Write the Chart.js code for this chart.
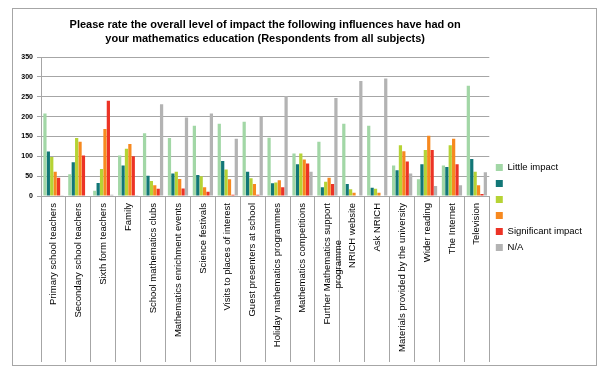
<!DOCTYPE html>
<html>
<head>
<meta charset="utf-8">
<script src="https://cdn.jsdelivr.net/npm/chart.js@4.4.1/dist/chart.umd.min.js"></script>
<style>
  body { margin: 0; background: #fff; }
  #frame { position: absolute; left: 12px; top: 8px; width: 583px; height: 356px; border: 1px solid #a6a6a6; }
  #chart { display: block; }
</style>
</head>
<body>
<div id="frame"><canvas id="chart" width="583" height="356"></canvas></div>
<script>
const categories = [
    'Primary school teachers',
    'Secondary school teachers',
    'Sixth form teachers',
    'Family',
    'School mathematics clubs',
    'Mathematics enrichment events',
    'Science festivals',
    'Visits to places of interest',
    'Guest presenters at school',
    'Holiday mathematics programmes',
    'Mathematics competitions',
    ['Further Mathematics support', 'programme              '], // trailing spaces centre the 2nd line
    'NRICH website',
    'Ask NRICH',
    'Materials provided by the university',
    'Wider reading',
    'The Internet',
    'Television'
];

const seriesNames = ['Little impact', '', '', '', 'Significant impact', 'N/A'];

const littleImpact = [208, 55, 13, 102, 158, 146, 177, 182, 187, 147, 107, 137, 182, 177, 77, 42, 77, 278];
const level2       = [112, 85, 33, 77, 51, 57, 53, 88, 61, 32, 80, 22, 30, 21, 65, 80, 73, 93];
const level3       = [98, 146, 68, 119, 38, 61, 50, 67, 45, 34, 107, 36, 17, 18, 128, 116, 128, 61];
const level4       = [61, 137, 169, 131, 27, 43, 22, 42, 30, 40, 92, 46, 8, 8, 113, 152, 144, 27];
const significant  = [46, 102, 240, 100, 18, 19, 11, 3, 3, 22, 82, 30, 0, 0, 87, 116, 80, 5];
const notApplicable = [2, 0, 3, 2, 231, 198, 208, 144, 200, 252, 61, 247, 290, 296, 57, 25, 27, 60];

const yTicks = [0, 50, 100, 150, 200, 250, 300, 350];

const colors = ['#a2d7a6', '#127777', '#b6d335', '#f7891f', '#ec3326', '#b3b3b3'];
const allSeries = [littleImpact, level2, level3, level4, significant, notApplicable];

const chartCanvas = document.getElementById('chart');

const chart = new Chart(chartCanvas, {
    type: 'bar',
    data: {
        labels: categories,
        datasets: allSeries.map((values, i) => ({
            label: seriesNames[i],
            data: values,
            backgroundColor: colors[i],
            borderWidth: 0,
            categoryPercentage: 0.82,
            barPercentage: 0.95
        }))
    },
    options: {
        responsive: false,
        animation: false,
        layout: {
            padding: { left: 0, right: 4, top: 0, bottom: 3 }
        },
        plugins: {
            tooltip: { enabled: false },
            title: {
                display: true,
                fullSize: false,
                text: [
                    'Please rate the overall level of impact the following influences have had on',
                    'your mathematics education (Respondents from all subjects)'
                ],
                color: '#000',
                font: { family: '"Liberation Sans", Arial, sans-serif', size: 11, weight: 'bold', lineHeight: 1.3 },
                padding: { top: 9, bottom: 10.5 }
            },
            legend: {
                position: 'right',
                title: {
                    display: true,
                    text: ' ',
                    font: { size: 10 },
                    padding: { top: 0, bottom: 32 }
                },
                labels: {
                    boxWidth: 7,
                    boxHeight: 7,
                    padding: 6.5,
                    color: '#000',
                    font: { family: '"Liberation Sans", Arial, sans-serif', size: 9.5 }
                }
            }
        },
        scales: {
            x: {
                afterFit: function(scale) { scale.height = 166; },
                grid: {
                    display: true,
                    offset: true,
                    drawOnChartArea: false,
                    tickLength: 166,
                    color: '#a6a6a6'
                },
                border: { color: '#a6a6a6' },
                ticks: {
                    autoSkip: false,
                    minRotation: 90,
                    maxRotation: 90,
                    padding: -159,
                    color: '#000',
                    font: { family: '"Liberation Sans", Arial, sans-serif', size: 9.5 }
                }
            },
            y: {
                afterFit: function(scale) { scale.width = 28; },
                min: 0,
                max: 350,
                afterBuildTicks: function(scale) {
                    scale.ticks = yTicks.map(v => ({ value: v }));
                },
                grid: {
                    color: '#a6a6a6',
                    tickLength: 4
                },
                border: { color: '#a6a6a6' },
                ticks: {
                    padding: 4,
                    color: '#000',
                    font: { family: '"Liberation Sans", Arial, sans-serif', size: 7, weight: 'bold' }
                }
            }
        }
    }
});
</script>
</body>
</html>
